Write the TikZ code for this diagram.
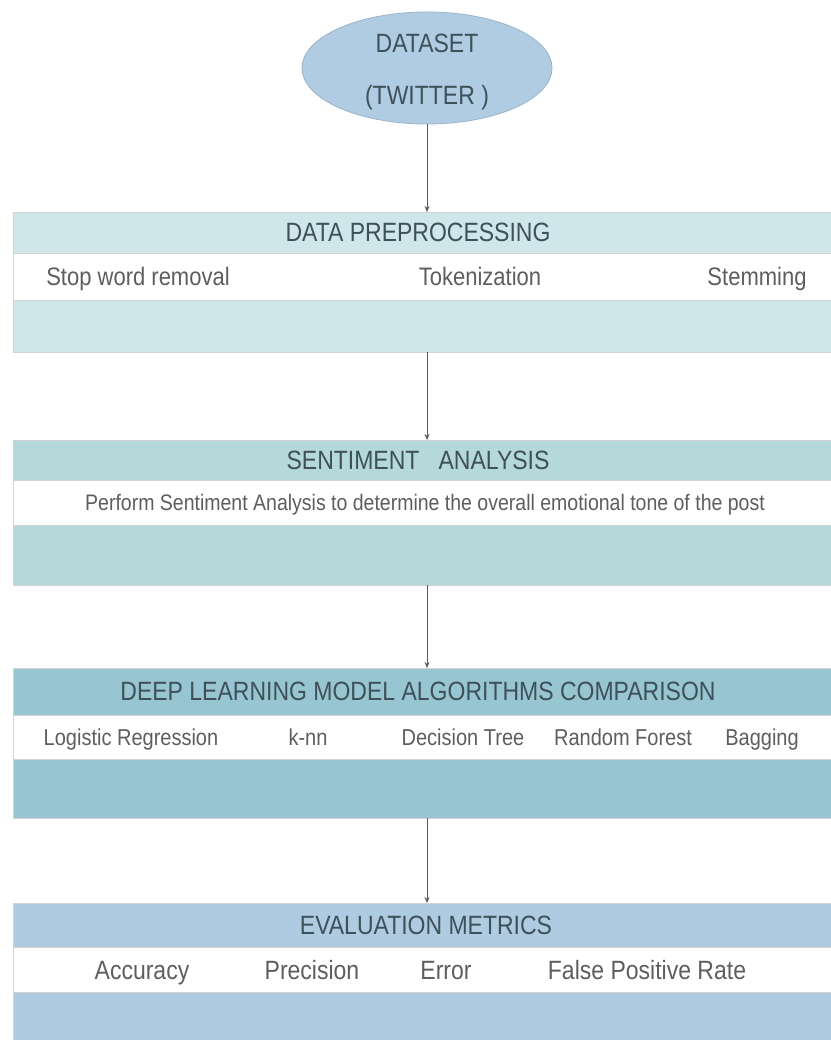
\documentclass[tikz,border=0pt]{standalone}
\usepackage{fontspec}
\setmainfont{Liberation Sans}
\usepackage{xcolor}
\usetikzlibrary{positioning,shapes.geometric,arrows.meta}

\definecolor{dsblue}{HTML}{B0CCE3}
\definecolor{dsedge}{HTML}{9DB4C6}
\definecolor{prepcyan}{HTML}{CFE7EA}
\definecolor{sentiteal}{HTML}{B5D9DA}
\definecolor{deepteal}{HTML}{97C6D2}
\definecolor{evalblue}{HTML}{AECBE2}
\definecolor{headink}{HTML}{3E5059}
\definecolor{itemink}{HTML}{5E5E5E}
\definecolor{arrowink}{HTML}{5A5A5A}

\tikzset{
  band/.style={rectangle, draw=gray!35, line width=0.8pt, minimum width=820pt, inner sep=0pt, outer sep=0pt},
  title/.style={font=\fontsize{23}{26}\selectfont, text=headink, inner sep=0pt, yscale=1.15},
  item/.style={font=\fontsize{#1}{24}\selectfont, text=itemink, inner sep=0pt, anchor=base, yscale=1.15},
  item/.default=22,
  flow/.style={-{Stealth[length=6pt,width=5pt]}, draw=arrowink, line width=0.8pt}
}

\begin{document}
\begin{tikzpicture}[x=1pt, y=-1pt]
    \useasboundingbox[fill=white] (0,0) rectangle (830,1040);

    % dataset
    \node[ellipse, fill=dsblue, draw=dsedge, line width=0.8pt, minimum width=250pt, minimum height=112pt] (data) at (427,68) {};
    \node[title] (dataname) at (427,43) {DATASET};
    \node[title] (datasrc) at (427,98) {(TWITTER )};

    % preprocessing
    \node[band, fill=prepcyan, minimum height=41pt] (prep) at (423,232.5) {};
    \node[band, fill=white, minimum height=47pt, below=0pt of prep] (prepbody) {};
    \node[band, fill=prepcyan, minimum height=52pt, below=0pt of prepbody] (prepfoot) {};
    \node[title] at (418,232.5) {DATA PREPROCESSING};
    \node[item] (stop) at (138,285.5) {Stop word removal};
    \node[item] (token) at (480,285.5) {Tokenization};
    \node[item] (stem) at (757,285.5) {Stemming};

    % sentiment
    \node[band, fill=sentiteal, minimum height=40pt] (senti) at (423,460) {};
    \node[band, fill=white, minimum height=45pt, below=0pt of senti] (sentibody) {};
    \node[band, fill=sentiteal, minimum height=60pt, below=0pt of sentibody] (sentifoot) {};
    \node[title] at (418,460) {SENTIMENT\ \ \ ANALYSIS};
    \node[item=19.5] (tone) at (425,510.5) {Perform Sentiment Analysis to determine the overall emotional tone of the post};

    % models
    \node[band, fill=deepteal, minimum height=47pt] (deep) at (423,691.5) {};
    \node[band, fill=white, minimum height=44pt, below=0pt of deep] (deepbody) {};
    \node[band, fill=deepteal, minimum height=59pt, below=0pt of deepbody] (deepfoot) {};
    \node[title] at (418,691.5) {DEEP LEARNING MODEL ALGORITHMS COMPARISON};
    \node[item=20] (logreg) at (131,745) {Logistic Regression};
    \node[item=20] (knn) at (308,745) {k-nn};
    \node[item=20] (dtree) at (463,745) {Decision Tree};
    \node[item=20] (rforest) at (623,745) {Random Forest};
    \node[item=20] (bagging) at (762,745) {Bagging};

    % evaluation
    \node[band, fill=evalblue, minimum height=44pt] (eval) at (423,925) {};
    \node[band, fill=white, minimum height=45pt, below=0pt of eval] (evalbody) {};
    \node[band, fill=evalblue, minimum height=52pt, below=0pt of evalbody] (evalfoot) {};
    \node[title] at (426,925) {EVALUATION METRICS};
    \node[item=23] (acc) at (142,979) {Accuracy};
    \node[item=23] (prec) at (312,979) {Precision};
    \node[item=23] (err) at (446,979) {Error};
    \node[item=23] (fpr) at (647,979) {False Positive Rate};

    \draw[flow] (data.south) -- (data.south |- prep.north);
    \draw[flow] (prepfoot.south -| data.south) -- (data.south |- senti.north);
    \draw[flow] (sentifoot.south -| data.south) -- (data.south |- deep.north);
    \draw[flow] (deepfoot.south -| data.south) -- (data.south |- eval.north);
\end{tikzpicture}
\end{document}
